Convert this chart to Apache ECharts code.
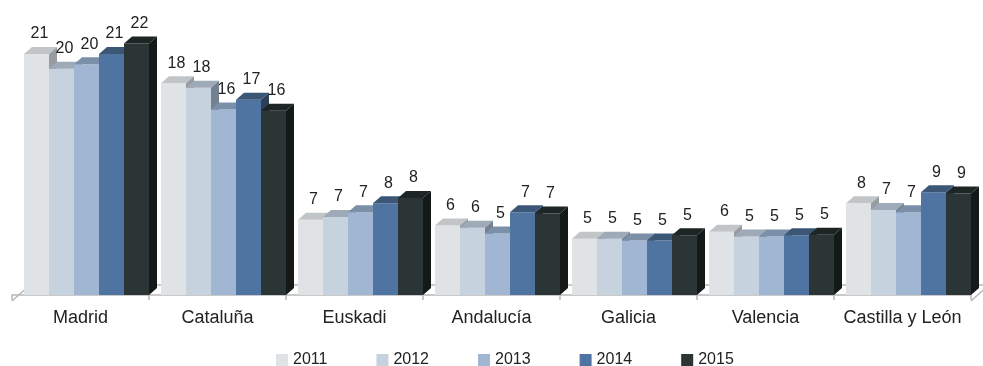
<!DOCTYPE html>
<html>
<head>
<meta charset="utf-8">
<script src="https://cdn.jsdelivr.net/npm/echarts@6/dist/echarts.min.js"></script>
<style>
html,body{margin:0;padding:0;background:#fff;}
#chart{width:983px;height:366px;}
</style>
</head>
<body>
<div id="chart"></div>
<script>
const categories = ['Madrid', 'Cataluña', 'Euskadi', 'Andalucía', 'Galicia', 'Valencia', 'Castilla y León'];
const years = ['2011', '2012', '2013', '2014', '2015'];
const v2011 = [21.0, 18.45, 6.55, 6.05, 4.9, 5.5, 8.0];
const v2012 = [19.7, 18.05, 6.8, 5.85, 4.9, 5.1, 7.4];
const v2013 = [20.1, 16.15, 7.2, 5.35, 4.75, 5.1, 7.2];
const v2014 = [21.0, 17.0, 8.0, 7.2, 4.75, 5.2, 8.95];
const v2015 = [21.9, 16.05, 8.45, 7.1, 5.2, 5.25, 8.85];
const seriesValues = [v2011, v2012, v2013, v2014, v2015];

const frontColors = ['#e0e3e6', '#c6d2de', '#a1b6d2', '#4f74a2', '#2b3535'];
const topColors   = ['#c2c5c8', '#9eaab8', '#7c8fa9', '#3c5676', '#1d2525'];
const sideColors  = ['#989ca0', '#748190', '#5e6e84', '#2c405a', '#141a18'];

const FONT = 'Liberation Sans, Arial, Helvetica, sans-serif';
const DX = 8, DY = 7;

function barRenderer(s) {
  return function (params, api) {
    const ci = api.value(0), val = api.value(1);
    const base = api.coord([ci, 0]);
    const band = api.size([1, 0])[0];
    const w = band * 25 / 137;
    const start = base[0] - band / 2 + band * 12 / 137;
    const x0 = start + s * w, x1 = x0 + w;
    const yB = base[1];
    const yT = api.coord([ci, val])[1];
    return {
      type: 'group',
      children: [
        { type: 'rect', shape: { x: x0, y: yT, width: w, height: yB - yT }, style: { fill: frontColors[s] } },
        { type: 'polygon', shape: { points: [[x0, yT], [x0 + DX, yT - DY], [x1 + DX, yT - DY], [x1, yT]] }, style: { fill: topColors[s] } },
        { type: 'polygon', shape: { points: [[x1, yT], [x1 + DX, yT - DY], [x1 + DX, yB - DY], [x1, yB]] }, style: { fill: sideColors[s] } },
        { type: 'text', style: { text: String(Math.round(val)), x: x0 + w / 2 + 3, y: yT - 20, align: 'center', verticalAlign: 'middle', fontSize: 16, fontFamily: FONT, fill: '#222' } }
      ]
    };
  };
}

function floorRenderer(params, api) {
  const n = categories.length;
  const band = api.size([1, 0])[0];
  const p0 = api.coord([0, 0]);
  const pN = api.coord([n - 1, 0]);
  const xL = p0[0] - band / 2, xR = pN[0] + band / 2;
  const yF = p0[1] + 6, yBk = yF - 16, dx = 18;
  const ls = { stroke: '#b8b8b8', lineWidth: 1.5, fill: null };
  return {
    type: 'group',
    children: [
      { type: 'polyline', shape: { points: [[xL, yF], [xL + dx, yBk], [xR + dx, yBk], [xR, yF]] }, style: ls }
    ]
  };
}

const series = [{
  type: 'custom',
  name: 'floor',
  renderItem: floorRenderer,
  data: [[0, 0]],
  clip: false,
  silent: true,
  z: 1
}];
seriesValues.forEach((vals, s) => {
  series.push({
    type: 'custom',
    name: years[s],
    renderItem: barRenderer(s),
    data: vals.map((v, i) => [i, v]),
    encode: { x: 0, y: 1 },
    itemStyle: { color: frontColors[s] },
    clip: false,
    z: 2 + s
  });
});

const chart = echarts.init(document.getElementById('chart'), null, { renderer: 'canvas' });
chart.setOption({
  animation: false,
  backgroundColor: '#fff',
  textStyle: { fontFamily: FONT },
  grid: { left: 12, right: 12, top: 8, bottom: 71, containLabel: false },
  xAxis: {
    type: 'category',
    data: categories,
    offset: 6,
    axisLine: { show: true, lineStyle: { color: '#b8b8b8', width: 1.5 } },
    axisTick: { show: true, length: 5, lineStyle: { color: '#b8b8b8', width: 1.5 } },
    axisLabel: { interval: 0, fontSize: 18, color: '#222', margin: 8, fontFamily: FONT }
  },
  yAxis: { type: 'value', min: 0, max: 25, show: false, splitLine: { show: false } },
  legend: {
    data: years,
    left: 271,
    top: 347,
    itemWidth: 12,
    itemHeight: 12,
    itemGap: 49,
    icon: 'rect',
    textStyle: { fontSize: 16, color: '#222', fontFamily: FONT }
  },
  series: series
});
</script>
</body>
</html>
